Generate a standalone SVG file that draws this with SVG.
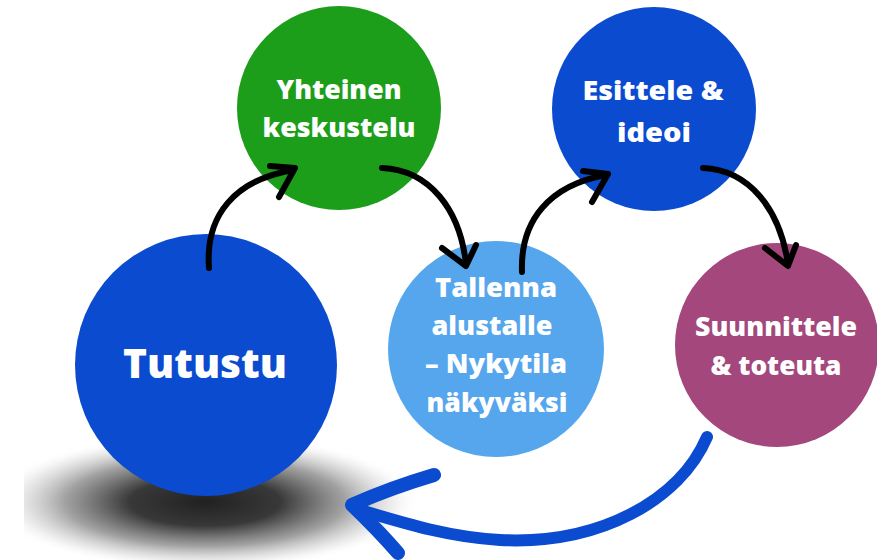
<svg xmlns="http://www.w3.org/2000/svg" width="877" height="560" viewBox="0 0 877 560">
<style>
.lbl{font-family:"Open Sans","Noto Sans","DejaVu Sans",sans-serif;font-weight:800;fill:#ffffff;text-anchor:middle}
.arr{fill:none;stroke:#000000;stroke-width:6;stroke-linecap:round;stroke-linejoin:round}
.back{fill:none;stroke:#0b4bcf;stroke-linecap:round;stroke-linejoin:round}
</style>
<defs>
<radialGradient id="shadow" cx="0.5" cy="0.5" r="0.5">
<stop offset="0" stop-color="#1a1a1a" stop-opacity="0.97"/>
<stop offset="0.35" stop-color="#222" stop-opacity="0.9"/>
<stop offset="0.65" stop-color="#444" stop-opacity="0.5"/>
<stop offset="0.88" stop-color="#888" stop-opacity="0.13"/>
<stop offset="1" stop-color="#fff" stop-opacity="0"/>
</radialGradient>
<clipPath id="shclip"><rect x="24" y="400" width="460" height="160"/></clipPath>
</defs>
<rect width="877" height="560" fill="#ffffff"/>
<g clip-path="url(#shclip)">
<ellipse cx="205" cy="502" rx="215" ry="68" fill="url(#shadow)"/>
</g>
<g id="tutustu">
<circle cx="206" cy="365" r="131" fill="#0b4bcf"/>
<text class="lbl" x="205" y="378" font-size="40" textLength="164" lengthAdjust="spacingAndGlyphs">Tutustu</text>
</g>
<g id="yhteinen">
<circle cx="339" cy="108" r="102" fill="#1c9e1b"/>
<text class="lbl" x="339" y="99" font-size="27" textLength="125" lengthAdjust="spacingAndGlyphs">Yhteinen</text>
<text class="lbl" x="339" y="137" font-size="27" textLength="153" lengthAdjust="spacingAndGlyphs">keskustelu</text>
</g>
<g id="tallenna">
<circle cx="496" cy="349" r="108" fill="#55a6ec"/>
<text class="lbl" x="496" y="297" font-size="26" textLength="122" lengthAdjust="spacingAndGlyphs">Tallenna</text>
<text class="lbl" x="492" y="335" font-size="26" textLength="121" lengthAdjust="spacingAndGlyphs">alustalle</text>
<text class="lbl" x="496" y="373" font-size="26" textLength="142" lengthAdjust="spacingAndGlyphs">– Nykytila</text>
<text class="lbl" x="497" y="412" font-size="26" textLength="141" lengthAdjust="spacingAndGlyphs">näkyväksi</text>
</g>
<g id="esittele">
<circle cx="654" cy="109" r="102" fill="#0b4bcf"/>
<text class="lbl" x="653" y="100" font-size="27" textLength="141" lengthAdjust="spacingAndGlyphs">Esittele &amp;</text>
<text class="lbl" x="654" y="142" font-size="27" textLength="74" lengthAdjust="spacingAndGlyphs">ideoi</text>
</g>
<g id="suunnittele">
<circle cx="777" cy="345" r="102" fill="#a3477c"/>
<text class="lbl" x="776" y="336" font-size="26" textLength="162" lengthAdjust="spacingAndGlyphs">Suunnittele</text>
<text class="lbl" x="776" y="375" font-size="26" textLength="131" lengthAdjust="spacingAndGlyphs">&amp; toteuta</text>
</g>
<g id="connectors">
<path class="arr" d="M209,268 C205,215 235,180 293,170"/>
<path class="arr" d="M270,166 L295,168 L279,197"/>
<path class="arr" d="M382,168 C430,170 460,210 466,264"/>
<path class="arr" d="M442,248 L466,266 L476,245"/>
<path class="arr" d="M522,272 C520,220 550,185 606,175"/>
<path class="arr" d="M583,171 L608,174 L592,202"/>
<path class="arr" d="M703,168 C750,170 780,210 788,264"/>
<path class="arr" d="M765,248 L788,266 L796,245"/>
<path class="back" stroke-width="12" d="M707,437 C680,500 600,545 500,540 C450,537 410,525 360,510"/>
<path class="back" stroke-width="14" d="M434,475 Q390,488 352,505 Q378,530 398,553"/>
</g>
</svg>
